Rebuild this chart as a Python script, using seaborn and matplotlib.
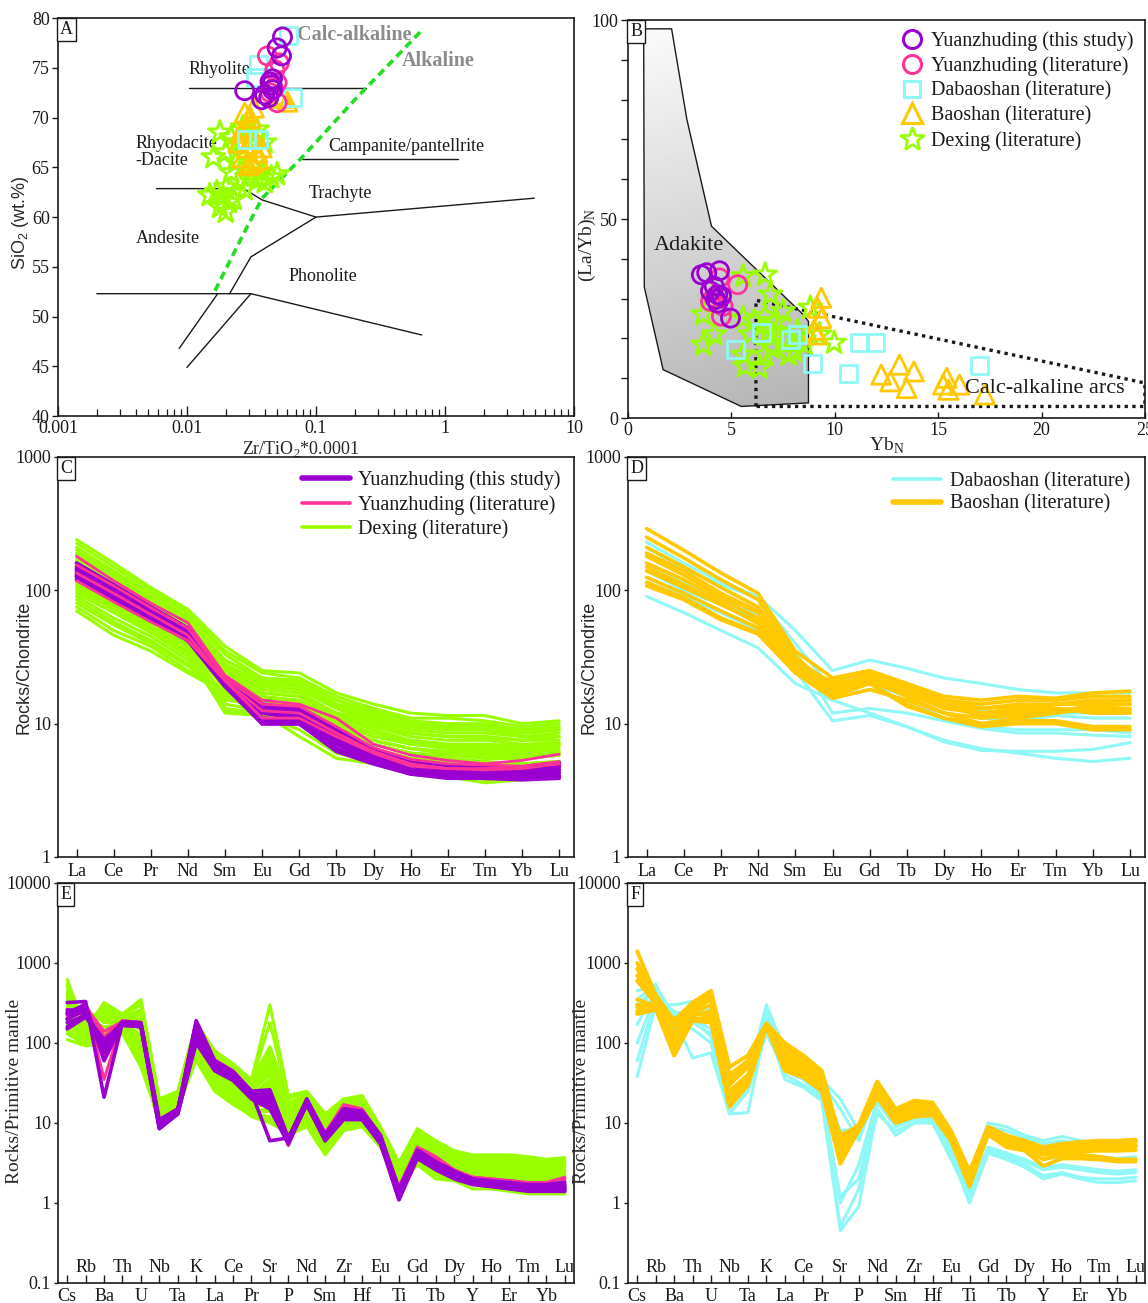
import numpy as np
import pandas as pd
import matplotlib
matplotlib.use("Agg")
import matplotlib.pyplot as plt
import seaborn as sns
from matplotlib.patches import Polygon
from matplotlib.lines import Line2D
from matplotlib.ticker import FixedLocator, NullLocator, NullFormatter, FuncFormatter, LogLocator

# ---------------------------------------------------------------- data
# A: Zr/TiO2*0.0001 vs SiO2
a_yzd_x = [0.055, 0.050, 0.054, 0.046, 0.045, 0.028, 0.040, 0.043, 0.038, 0.046, 0.044]
a_yzd_y = [78.1, 77.0, 76.2, 73.9, 73.3, 72.7, 72.3, 72.0, 71.8, 72.8, 73.6]
a_yzdl_x = [0.042, 0.048, 0.050, 0.047, 0.050, 0.044, 0.052]
a_yzdl_y = [76.2, 74.8, 73.5, 72.9, 71.5, 72.5, 75.5]
a_dbs_x = [0.061, 0.036, 0.034, 0.066, 0.029, 0.036]
a_dbs_y = [78.3, 75.3, 74.0, 72.0, 67.8, 67.8]
a_bs_x = [0.028, 0.031, 0.030, 0.026, 0.033, 0.029, 0.035, 0.027, 0.032, 0.030, 0.036,
          0.025, 0.038, 0.055, 0.060, 0.052, 0.033]
a_bs_y = [70.5, 70.0, 69.0, 68.5, 68.0, 67.0, 66.5, 66.0, 65.5, 65.2, 65.8,
          67.5, 67.0, 72.0, 71.6, 72.3, 71.0]
a_dx_x = [0.018, 0.022, 0.025, 0.030, 0.035, 0.040, 0.020, 0.016, 0.024, 0.028, 0.033,
          0.038, 0.045, 0.050, 0.040, 0.035, 0.030, 0.020, 0.017, 0.019, 0.015, 0.021,
          0.018, 0.020, 0.023, 0.025, 0.028, 0.022, 0.031, 0.027]
a_dx_y = [68.5, 68.0, 67.5, 68.5, 68.8, 67.5, 66.5, 66.0, 65.5, 66.0, 65.0,
          64.5, 64.0, 64.3, 63.5, 63.8, 64.0, 63.0, 62.5, 62.0, 62.2, 61.5,
          61.0, 60.5, 61.8, 63.5, 62.8, 64.5, 66.5, 69.0]

# A: classification boundaries (Winchester & Floyd)
wf_rhy_x, wf_rhy_y = [0.0103, 0.245], [73.0, 73.0]
wf_cp_x, wf_cp_y = [0.078, 1.26], [65.8, 65.8]
wf_tr_x = [0.0058, 0.0275, 0.0383, 0.1, 4.92]
wf_tr_y = [62.86, 62.86, 61.72, 60.0, 61.9]
wf_ph_x = [0.1, 0.0313, 0.0214]
wf_ph_y = [60.0, 56.0, 52.3]
wf_bas_x = [0.002, 0.0313, 0.66]
wf_bas_y = [52.3, 52.3, 48.15]
wf_l1_x, wf_l1_y = [0.0173, 0.0087], [52.3, 46.8]
wf_l2_x, wf_l2_y = [0.0313, 0.00998], [52.3, 44.88]
alk_x = [0.0165, 0.0275, 0.0383, 0.0793, 0.200, 0.683]
alk_y = [52.6, 58.35, 61.9, 66.1, 71.8, 78.96]

# B: YbN vs (La/Yb)N
b_yzd_x = [3.81, 3.55, 4.43, 4.17, 4.34, 4.25, 4.52, 4.34, 4.96, 3.99]
b_yzd_y = [36.5, 36.0, 37.0, 33.1, 31.0, 29.8, 30.6, 28.9, 25.1, 31.9]
b_yzdl_x = [5.31, 3.99, 4.60, 4.52, 4.43, 4.17]
b_yzdl_y = [33.5, 29.3, 28.1, 25.6, 35.2, 30.2]
b_dbs_x = [5.22, 6.45, 7.86, 8.21, 8.91, 10.67, 11.20, 11.99, 17.0]
b_dbs_y = [17.2, 21.5, 19.7, 21.0, 13.8, 11.3, 18.9, 18.9, 13.2]
b_bs_x = [9.35, 9.17, 9.35, 9.00, 9.17, 12.25, 13.13, 13.83, 12.69, 13.48, 15.24, 15.41,
          16.03, 15.50, 17.26]
b_bs_y = [30.2, 27.7, 25.1, 22.2, 21.0, 10.9, 13.4, 11.7, 9.2, 7.5, 8.4, 10.1,
          8.4, 7.1, 5.9]
b_dx_x = [3.64, 4.17, 3.64, 5.57, 6.63, 6.89, 5.66, 6.36, 6.63, 7.15, 7.50, 6.98, 5.92,
          8.03, 8.82, 9.97, 8.56, 5.57, 7.50, 6.10, 6.63, 7.77, 8.21, 6.80, 9.26, 5.57, 7.15]
b_dx_y = [18.4, 21.0, 26.0, 35.6, 36.0, 31.0, 13.0, 12.6, 25.6, 24.3, 20.1, 17.6, 21.0,
          16.8, 27.7, 18.9, 18.4, 25.1, 26.8, 24.3, 15.9, 15.9, 21.8, 21.8, 21.0, 15.9, 21.0]

# B: discrimination fields
adakite_x = [0.76, 2.11, 2.85, 4.04, 8.47, 8.73, 8.73, 5.48, 1.70, 0.79]
adakite_y = [97.8, 97.8, 75.0, 48.2, 26.0, 24.3, 3.8, 2.9, 12.15, 32.9]
arc_x = [6.19, 6.19, 25.0, 25.0, 6.19]
arc_y = [2.9, 29.6, 8.8, 2.9, 2.9]

# C, D: chondrite-normalised REE
ree = ["La", "Ce", "Pr", "Nd", "Sm", "Eu", "Gd", "Tb", "Dy", "Ho", "Er", "Tm", "Yb", "Lu"]
ree_yzd = [
    [160, 110, 75, 52, 22, 14, 13, 9, 6.5, 5.2, 4.8, 4.7, 4.7, 5.1],
    [150, 105, 72, 50, 21.5, 13.5, 12.5, 8.5, 6.3, 5.0, 4.7, 4.6, 4.6, 5.0],
    [145, 100, 70, 48, 21, 13, 12, 8.3, 6.0, 4.9, 4.6, 4.5, 4.5, 4.9],
    [140, 97, 68, 47, 20.5, 12.5, 11.5, 8.0, 5.8, 4.8, 4.5, 4.4, 4.4, 4.7],
    [135, 95, 66, 46, 20, 12, 11, 7.7, 5.6, 4.7, 4.4, 4.3, 4.3, 4.5],
    [130, 92, 64, 45, 20, 11, 10.5, 7.3, 5.4, 4.6, 4.3, 4.2, 4.2, 4.3],
    [125, 88, 62, 43, 19.5, 10.5, 10, 7.0, 5.3, 4.4, 4.1, 4.0, 4.0, 4.1],
    [120, 85, 60, 42, 19, 10, 10, 6.5, 5.1, 4.2, 4.0, 3.9, 3.9, 4.0],
    [128, 90, 63, 44, 20, 10, 10, 6.2, 5.0, 4.2, 3.9, 3.9, 3.8, 3.9],
]
ree_yzdl = [
    [180, 118, 80, 57, 23, 15, 14, 11, 7, 5.8, 5.3, 5.0, 5.3, 5.9],
    [155, 108, 74, 52, 22, 14, 13.5, 9.5, 6.6, 5.4, 5.0, 4.9, 4.8, 5.2],
    [118, 82, 58, 42, 21, 11, 11, 8, 6, 4.8, 4.6, 4.5, 4.6, 5.0],
    [135, 95, 66, 46, 21, 12.5, 12, 8.5, 6.2, 5.0, 4.6, 4.6, 4.7, 5.0],
]
ree_dx = [
    [240, 160, 105, 72, 38, 25, 24, 17, 14, 12, 11.5, 11.5, 10, 10.5],
    [225, 150, 100, 68, 35, 24, 22, 16, 13, 11, 11, 10.5, 9.5, 10],
    [210, 140, 95, 65, 33, 22, 21, 15, 12.5, 10.5, 10, 10, 9, 9.5],
    [200, 135, 92, 62, 30, 21, 20, 14, 12, 10, 9.5, 9.5, 8.5, 9],
    [190, 130, 90, 60, 28, 20, 19, 13.5, 11, 9.5, 9, 9, 8, 8.5],
    [180, 125, 85, 57, 27, 19, 18, 13, 10.5, 9, 8.5, 8.5, 8, 8],
    [170, 118, 82, 55, 26, 18, 17, 12, 10, 8.5, 8, 8, 7.5, 7.5],
    [160, 112, 78, 52, 25, 17, 16, 11.5, 9.5, 8, 7.5, 7.5, 7, 7.2],
    [150, 105, 74, 50, 24, 16, 15, 11, 9, 7.5, 7, 7, 6.5, 7],
    [145, 100, 70, 48, 23, 15.5, 14.5, 10.5, 8.5, 7.2, 6.8, 6.8, 6.5, 6.8],
    [140, 95, 68, 46, 22, 15, 14, 10, 8, 7, 6.5, 6.5, 6.2, 6.5],
    [130, 90, 64, 44, 21, 14, 13, 9.5, 7.5, 6.5, 6, 6, 5.8, 6],
    [125, 88, 62, 42, 20, 14, 13, 9, 7.5, 6.5, 6.2, 6.2, 6, 6.2],
    [120, 85, 60, 40, 18, 13, 12, 8.5, 7, 6, 5.8, 5.8, 5.5, 5.8],
    [115, 80, 57, 38, 16, 12, 11, 8, 6.5, 5.5, 5.2, 5, 5, 5.2],
    [110, 78, 55, 37, 14, 12.5, 10.5, 7.5, 6, 5, 4.8, 4.5, 4.5, 4.8],
    [105, 75, 52, 35, 13, 12, 10, 7, 5.8, 5, 4.5, 4.2, 4.2, 4.5],
    [100, 72, 50, 34, 12, 11.5, 9, 6, 5.2, 4.5, 4.2, 3.8, 4, 4.2],
    [95, 68, 48, 32, 12.5, 12, 8, 5.5, 5, 4.3, 4, 3.6, 3.8, 4],
    [90, 62, 45, 30, 15, 14, 11, 8, 7, 6, 5.8, 5.5, 5.5, 5.8],
    [85, 58, 42, 28, 16, 15, 13, 10, 8.5, 7.5, 7, 7, 6.8, 7],
    [80, 55, 40, 27, 17, 16, 14, 11, 9.5, 8.5, 8, 8, 7.5, 8],
    [75, 50, 38, 25, 18, 17, 16, 12, 10.5, 9.5, 9, 9, 8.5, 9],
    [70, 46, 35, 24, 17, 15, 13, 9, 7.5, 6.5, 6, 5.5, 5.5, 6],
    [165, 115, 80, 54, 30, 22, 21, 15, 12, 10, 9.5, 9.5, 9, 9.5],
    [135, 92, 66, 45, 26, 20, 20, 14, 11.5, 9.5, 9, 9, 8.5, 9],
    [115, 82, 58, 40, 24, 19, 18, 13, 10, 8.5, 8, 7.8, 7.5, 8],
    [185, 128, 88, 58, 22, 14, 12, 8.5, 7, 6, 5.5, 5.2, 5, 5.2],
    [155, 108, 75, 50, 20, 13, 11, 7.5, 6.2, 5.2, 4.8, 4.6, 4.5, 4.7],
]
ree_dbs = [
    [230, 160, 115, 90, 50, 25, 30, 26, 22, 20, 18, 17, 17, 17],
    [90, 68, 50, 37, 20, 15, 12, 9.5, 7.5, 6.5, 6, 5.5, 5.2, 5.5],
    [125, 95, 70, 52, 25, 10.5, 11.5, 9.5, 7.3, 6.3, 6.2, 6.2, 6.4, 7.2],
    [160, 115, 85, 65, 35, 12, 13, 12, 10.5, 9.2, 8.5, 8.5, 8.2, 8.0],
    [210, 145, 110, 88, 40, 18, 20, 16, 12, 11, 10.5, 11.5, 11, 11],
    [140, 100, 78, 60, 30, 16, 18, 15, 11, 9.5, 9, 9, 9, 8.5],
    [115, 90, 68, 50, 28, 20, 22, 18, 14, 12.5, 12, 12, 12, 12],
]
ree_bs = [
    [290, 200, 135, 95, 35, 22, 25, 20, 16, 15, 16, 15.5, 17, 17.5],
    [250, 175, 120, 85, 32, 18, 24, 19, 15, 14, 15, 15, 16, 16],
    [210, 150, 105, 75, 30, 20, 22, 17, 14, 12, 13, 14, 14, 14],
    [180, 130, 90, 68, 28, 17, 21, 16, 12, 10, 10.5, 10.5, 9.5, 9.5],
    [160, 120, 85, 62, 26, 16, 20, 14, 11, 9.5, 10, 10, 9, 9],
    [140, 105, 78, 58, 27, 19, 23, 18, 13.5, 11.5, 12, 13, 12.5, 12.5],
    [125, 95, 70, 52, 26, 21, 24, 19, 15, 13, 14, 14, 15, 15],
    [115, 88, 62, 48, 25, 17, 20, 13.5, 11, 10, 11, 12, 13, 13],
    [108, 85, 60, 47, 24, 15.5, 18, 15, 12, 11, 11.5, 12.5, 13.5, 14],
    [190, 140, 95, 70, 30, 19, 21, 18, 14, 13, 13.5, 13, 12, 12],
    [150, 110, 80, 56, 27, 18, 22, 17, 13, 12, 12.5, 14, 14.5, 15],
]

# E, F: primitive-mantle normalised trace elements
tr = ["Cs", "Rb", "Ba", "Th", "U", "Nb", "Ta", "K", "La", "Ce", "Pr", "Sr", "P", "Nd",
      "Sm", "Zr", "Hf", "Eu", "Ti", "Gd", "Tb", "Dy", "Y", "Ho", "Er", "Tm", "Yb", "Lu"]
tr_yzd = [
    [320, 330, 21, 180, 175, 9, 14, 170, 58, 42, 24, 6, 6.5, 19, 7, 15, 14, 7, 1.2, 4.5, 3.2, 2.4, 2.0, 1.8, 1.7, 1.6, 1.6, 1.6],
    [240, 300, 60, 175, 170, 10, 14, 180, 55, 40, 23, 22, 6, 19, 7, 14, 13, 6.5, 1.3, 4.3, 3.0, 2.3, 1.9, 1.8, 1.7, 1.6, 1.6, 1.6],
    [200, 260, 85, 170, 165, 9, 13, 150, 52, 38, 22, 24, 5.5, 18, 6.5, 13, 12, 6, 1.1, 4.0, 2.9, 2.2, 1.8, 1.7, 1.6, 1.5, 1.5, 1.5],
    [230, 240, 100, 185, 180, 11, 15, 130, 50, 37, 21, 20, 6, 18, 6.5, 12, 12, 6, 1.2, 4.2, 3.0, 2.2, 1.9, 1.8, 1.7, 1.6, 1.5, 1.5],
    [180, 220, 110, 170, 160, 8.5, 13, 110, 48, 36, 21, 18, 5.8, 17, 6, 12, 11.5, 5.5, 1.3, 3.8, 2.7, 2.1, 1.8, 1.7, 1.6, 1.5, 1.5, 1.4],
    [160, 230, 95, 175, 170, 9.5, 14, 160, 55, 41, 23, 16, 6.2, 19, 6.8, 14, 13, 6.5, 1.4, 4.4, 3.1, 2.3, 1.9, 1.8, 1.7, 1.6, 1.6, 1.7],
    [200, 280, 75, 180, 175, 10, 14.5, 190, 60, 44, 25, 26, 6.5, 20, 7.2, 15, 14, 7, 1.5, 4.6, 3.3, 2.5, 2.0, 1.9, 1.8, 1.7, 1.7, 1.8],
    [150, 210, 105, 165, 160, 8.5, 13, 100, 45, 34, 20, 15, 5.5, 17, 6, 11, 11, 5.5, 1.1, 3.6, 2.6, 2.0, 1.7, 1.6, 1.5, 1.4, 1.4, 1.4],
    [260, 250, 90, 178, 170, 9, 14, 140, 50, 38, 22, 21, 6, 18, 6.5, 13, 12.5, 6, 1.2, 4.1, 2.9, 2.2, 1.8, 1.7, 1.6, 1.5, 1.5, 1.5],
]
tr_yzdl = [
    [220, 320, 35, 190, 180, 10, 15, 190, 62, 45, 25, 20, 5.2, 20, 7.5, 17, 15, 7, 1.6, 5, 3.8, 2.6, 2.1, 2.0, 1.9, 1.8, 1.8, 2.1],
    [240, 280, 140, 185, 175, 10.5, 15, 170, 58, 42, 24, 18, 5.5, 19, 7, 16, 14, 6.5, 1.5, 4.8, 3.6, 2.5, 2.0, 1.9, 1.8, 1.7, 1.7, 1.9],
    [200, 250, 70, 180, 170, 9.5, 14, 150, 55, 40, 23, 22, 6, 19, 7, 15, 13, 6.5, 1.4, 4.6, 3.4, 2.4, 2.0, 1.9, 1.8, 1.7, 1.7, 1.8],
    [230, 300, 120, 190, 180, 11, 15, 180, 60, 44, 25, 20, 5.5, 20, 7.5, 16, 14.5, 7, 1.5, 4.9, 3.7, 2.5, 2.1, 2.0, 1.9, 1.8, 1.8, 2.0],
]
tr_dx = [
    [620, 150, 320, 230, 350, 20, 25, 180, 80, 55, 35, 300, 22, 25, 13, 20, 22, 9, 3.2, 8.5, 6, 4.5, 4, 4, 4, 3.8, 3.5, 3.7],
    [500, 180, 280, 220, 300, 18, 23, 170, 75, 52, 33, 180, 20, 24, 12, 19, 21, 8.5, 3.0, 8, 5.5, 4.2, 3.8, 3.8, 3.8, 3.6, 3.4, 3.6],
    [450, 200, 250, 210, 260, 17, 22, 160, 70, 48, 30, 80, 18, 22, 11, 18, 20, 8, 2.8, 7.5, 5.2, 4, 3.6, 3.6, 3.5, 3.4, 3.2, 3.4],
    [400, 220, 230, 200, 220, 16, 21, 150, 65, 45, 28, 60, 16, 20, 10, 17, 19, 7.5, 2.6, 7, 5, 3.8, 3.4, 3.4, 3.3, 3.2, 3, 3.2],
    [350, 240, 200, 190, 180, 15, 20, 140, 60, 42, 26, 50, 15, 19, 9.5, 16, 18, 7, 2.5, 6.5, 4.7, 3.6, 3.2, 3.2, 3.1, 3, 2.8, 3],
    [300, 250, 180, 180, 150, 14, 19, 130, 55, 40, 25, 40, 14, 18, 9, 15, 17, 7, 2.4, 6, 4.4, 3.4, 3, 3, 2.9, 2.8, 2.6, 2.8],
    [280, 200, 160, 170, 130, 13, 18, 120, 50, 36, 22, 35, 13, 17, 8.5, 14, 16, 6.5, 2.3, 5.5, 4, 3.2, 2.8, 2.8, 2.7, 2.6, 2.5, 2.6],
    [250, 180, 150, 165, 110, 12, 17, 110, 45, 33, 20, 30, 12, 16, 8, 13, 15, 6.5, 2.2, 5, 3.7, 3, 2.6, 2.6, 2.5, 2.4, 2.3, 2.5],
    [220, 160, 140, 160, 90, 11, 16, 100, 40, 30, 18, 25, 11, 15, 7.5, 12, 14, 6, 2.1, 4.5, 3.4, 2.8, 2.4, 2.4, 2.3, 2.2, 2.1, 2.3],
    [200, 140, 130, 150, 70, 10, 15, 90, 35, 26, 16, 20, 10, 14, 7, 11, 13, 6, 2, 4.2, 3.1, 2.6, 2.2, 2.2, 2.1, 2, 2, 2.1],
    [180, 120, 120, 140, 60, 10.5, 14, 80, 30, 22, 14, 15, 9, 12, 6, 10, 11, 5.5, 1.9, 4, 2.8, 2.4, 2, 2, 1.9, 1.8, 1.8, 1.9],
    [150, 100, 110, 135, 50, 11, 14.5, 70, 28, 20, 13, 12, 8, 11, 5, 9, 10, 5.2, 1.8, 3.6, 2.5, 2.2, 1.8, 1.8, 1.7, 1.6, 1.6, 1.7],
    [130, 95, 105, 130, 55, 12, 15, 65, 26, 18, 12, 10, 7.5, 10, 4.5, 8.5, 9.5, 5, 1.7, 3.3, 2.2, 2, 1.7, 1.6, 1.6, 1.5, 1.5, 1.6],
    [110, 92, 100, 140, 65, 13, 16, 60, 25, 17, 12.5, 11, 7, 9, 4, 8, 9, 5, 1.6, 3, 2, 1.9, 1.5, 1.5, 1.4, 1.3, 1.3, 1.3],
    [550, 130, 300, 215, 330, 19, 24, 175, 78, 54, 34, 90, 21, 23, 12.5, 19.5, 21.5, 8.8, 3.1, 8.2, 5.8, 4.3, 3.9, 3.9, 3.9, 3.7, 3.5, 3.6],
    [420, 170, 260, 205, 240, 16.5, 21.5, 155, 68, 47, 29, 70, 17, 21, 10.5, 17.5, 19.5, 7.8, 2.7, 7.2, 5.1, 3.9, 3.5, 3.5, 3.4, 3.3, 3.1, 3.3],
    [330, 210, 190, 185, 160, 14.5, 19.5, 135, 58, 41, 25.5, 45, 14.5, 18.5, 9.2, 15.5, 17.5, 7, 2.4, 6.2, 4.5, 3.5, 3.1, 3.1, 3, 2.9, 2.7, 2.9],
    [260, 190, 155, 168, 120, 12.5, 17.5, 115, 48, 35, 21, 32, 12.5, 16.5, 8.2, 13.5, 15.5, 6.5, 2.2, 5.2, 3.8, 3.1, 2.7, 2.7, 2.6, 2.5, 2.4, 2.5],
    [210, 150, 135, 155, 80, 10.5, 15.5, 95, 38, 28, 17, 22, 10.5, 14.5, 7.2, 11.5, 13.5, 6, 2, 4.3, 3.2, 2.7, 2.3, 2.3, 2.2, 2.1, 2, 2.2],
    [170, 110, 115, 138, 55, 10, 14, 75, 29, 21, 13.5, 14, 8.5, 11.5, 5.5, 9.5, 10.5, 5.3, 1.8, 3.8, 2.6, 2.3, 1.9, 1.9, 1.8, 1.7, 1.7, 1.8],
    [380, 230, 210, 195, 200, 15.5, 20.5, 145, 62, 43, 27, 55, 15.5, 19.5, 9.8, 16.5, 18.5, 7.2, 2.5, 6.8, 4.8, 3.7, 3.3, 3.3, 3.2, 3.1, 2.9, 3.1],
    [240, 170, 145, 162, 100, 11.5, 16.5, 105, 42, 31, 19, 28, 11.5, 15.5, 7.8, 12.5, 14.5, 6.2, 2.1, 4.8, 3.5, 2.9, 2.5, 2.5, 2.4, 2.3, 2.2, 2.4],
    [190, 130, 125, 145, 65, 10, 14.5, 85, 32, 24, 15, 18, 9.5, 13, 6.5, 10.5, 12, 5.7, 1.9, 4.1, 2.9, 2.5, 2.1, 2.1, 2, 1.9, 1.9, 2],
    [140, 100, 108, 132, 52, 11.5, 14.8, 68, 27, 19, 12.5, 11, 7.8, 10.5, 4.8, 8.8, 9.8, 5.1, 1.7, 3.5, 2.4, 2.1, 1.8, 1.7, 1.7, 1.6, 1.6, 1.6],
]
tr_bs = [
    [1400, 400, 190, 320, 450, 50, 70, 175, 100, 70, 45, 6.5, 9.5, 33, 15, 19, 18, 8, 2.5, 9, 7, 6, 5, 5.5, 5.8, 6, 6, 6.2],
    [1000, 380, 160, 300, 420, 40, 60, 170, 90, 65, 42, 6, 9, 30, 14, 18, 17, 7.5, 2.3, 8.7, 6.8, 5.8, 4.8, 5.3, 5.6, 5.8, 5.8, 6],
    [850, 350, 130, 280, 400, 30, 50, 168, 80, 60, 38, 5.5, 8.8, 28, 13, 17, 16, 7.2, 2.1, 8.4, 6.5, 5.6, 4.6, 5, 5.3, 5.5, 5.5, 5.7],
    [700, 330, 100, 260, 350, 25, 40, 165, 70, 55, 35, 5, 8.5, 26, 12, 16, 15, 7, 2, 8.2, 6.3, 5.4, 4.4, 4.8, 5, 5.2, 5.2, 5.3],
    [600, 310, 85, 240, 300, 20, 35, 165, 60, 50, 32, 4.5, 8.2, 25, 11.5, 15, 14, 6.8, 1.9, 8, 6, 5.2, 4.2, 4.5, 4.8, 4.9, 4.9, 5],
    [350, 290, 75, 220, 250, 18, 32, 170, 55, 45, 30, 4, 8, 24, 11, 14, 13.5, 6.5, 1.8, 7.8, 5.7, 5, 4, 4.2, 4.4, 4.5, 4.5, 4.6],
    [300, 280, 70, 200, 200, 17, 30, 165, 50, 40, 28, 3.5, 8, 22, 10.5, 13, 13, 6.3, 1.7, 7.5, 5.3, 4.7, 3.5, 4, 4, 3.8, 3.5, 3.5],
    [280, 270, 70, 190, 180, 16, 30, 160, 45, 37, 25, 3.1, 8.2, 21, 10, 12, 12.5, 6, 1.6, 7.2, 5, 4.5, 2.9, 3.6, 3.6, 3.5, 3.3, 3.3],
    [230, 260, 200, 230, 220, 22, 38, 172, 65, 52, 34, 7, 9, 27, 12.5, 15.5, 15, 7.2, 2.1, 8.5, 6.2, 5.3, 4.5, 4.8, 5, 5, 5.2, 5.3],
    [250, 300, 120, 250, 380, 35, 55, 168, 75, 58, 36, 6, 8.8, 29, 13.5, 17, 16, 7.6, 2.2, 8.8, 6.6, 5.7, 4.7, 5.1, 5.3, 5.6, 5.6, 5.8],
]
tr_dbs = [
    [38, 300, 300, 330, 250, 25, 40, 300, 80, 55, 35, 20, 8, 30, 15, 16, 15, 8, 2, 10, 9, 7, 6, 6.8, 6, 5.5, 5, 5.5],
    [60, 350, 250, 200, 150, 15, 30, 200, 70, 50, 32, 15, 6, 25, 12, 14, 14, 7, 1.8, 9, 8, 6.5, 5.5, 6, 5.5, 5, 4.8, 5],
    [100, 400, 200, 65, 75, 13, 13.5, 180, 35, 28, 19, 0.45, 0.9, 15, 7, 10, 11, 4, 1.0, 4.2, 3.5, 2.8, 2, 2.3, 2, 1.8, 1.8, 1.9],
    [170, 450, 180, 150, 100, 13, 25, 150, 40, 30, 21, 0.5, 1.5, 13, 8, 10, 10, 3.5, 1.2, 4.5, 3.8, 3, 2.2, 2.4, 2.1, 2, 2, 2.1],
    [250, 500, 150, 200, 120, 18, 28, 160, 50, 38, 25, 1.0, 3, 20, 10, 12, 12, 5, 1.4, 5, 4.2, 3.5, 2.8, 3, 2.8, 2.6, 2.5, 2.6],
    [350, 550, 130, 250, 200, 20, 35, 250, 60, 45, 28, 5, 7, 25, 11, 13, 13, 6, 1.6, 7, 5.5, 4.5, 3.5, 3.8, 3.6, 3.5, 3.4, 3.5],
    [450, 520, 220, 280, 230, 22, 38, 220, 65, 48, 30, 8, 8.5, 28, 13, 14, 14, 7, 1.8, 8, 6.5, 5, 4, 4.3, 4, 3.8, 3.6, 3.8],
    [300, 480, 170, 180, 130, 16, 26, 130, 45, 35, 22, 1.2, 2, 18, 9, 11, 11, 4.5, 1.3, 4.8, 4, 3.3, 2.6, 2.8, 2.6, 2.4, 2.3, 2.4],
]

lab_yzd = "Yuanzhuding (this study)"
lab_yzdl = "Yuanzhuding (literature)"
lab_dbs = "Dabaoshan (literature)"
lab_bs = "Baoshan (literature)"
lab_dx = "Dexing (literature)"

# ---------------------------------------------------------------- style
PURPLE = "#9a00d0"
PINK = "#ff3399"
GREEN = "#99ff00"
CYAN = "#8ff7f5"
ORANGE = "#ffc800"
DASH_GREEN = "#22dd22"
GREY_TXT = "#8c8c8c"
INK = "#1a1a1a"

sns.set_theme(style="ticks")
plt.rcParams.update({
    "font.family": ["Liberation Serif", "DejaVu Serif"],
    "mathtext.fontset": "custom",
    "mathtext.rm": "Liberation Serif",
    "axes.linewidth": 1.2,
    "axes.edgecolor": INK,
    "xtick.color": INK,
    "ytick.color": INK,
    "xtick.labelsize": 13,
    "ytick.labelsize": 13,
    "xtick.major.width": 1.0,
    "ytick.major.width": 1.0,
    "xtick.minor.width": 0.9,
    "text.color": INK,
})
SANS = ["Liberation Sans", "DejaVu Sans"]
LEG_FS = 14.5

fig = plt.figure(figsize=(11.48, 13.03), dpi=100)
axA = fig.add_axes([0.0505, 0.6807, 0.4495, 0.3054])
axB = fig.add_axes([0.5470, 0.6792, 0.4503, 0.3054])
axC = fig.add_axes([0.0505, 0.3423, 0.4495, 0.3070])
axD = fig.add_axes([0.5470, 0.3423, 0.4503, 0.3070])
axE = fig.add_axes([0.0505, 0.01535, 0.4495, 0.3070])
axF = fig.add_axes([0.5470, 0.01535, 0.4503, 0.3070])


def panel_tag(ax, letter):
    ax.text(0.004, 0.993, letter, transform=ax.transAxes, ha="left", va="top", fontsize=13,
            bbox=dict(boxstyle="square,pad=0.18", fc="white", ec=INK, lw=1.0), zorder=10)


def scatter(ax, xs, ys, marker, color, size, z):
    sns.scatterplot(x=xs, y=ys, marker=marker, s=size, color=color, facecolor="none",
                    edgecolor=color, linewidth=2.0, ax=ax, zorder=z, legend=False)


def spider(ax, rows, labels, color, lw, z):
    df = pd.DataFrame(rows, columns=labels)
    df["sample"] = np.arange(len(df))
    long = df.melt(id_vars="sample", var_name="element", value_name="value")
    long["pos"] = long["element"].map({e: i for i, e in enumerate(labels)})
    sns.lineplot(data=long, x="pos", y="value", units="sample", estimator=None, color=color,
                 lw=lw, ax=ax, zorder=z, legend=False, solid_joinstyle="round")


# ---------------------------------------------------------------- A
ax = axA
ax.set_xscale("log")
for xs, ys in [(wf_rhy_x, wf_rhy_y), (wf_cp_x, wf_cp_y), (wf_tr_x, wf_tr_y), (wf_ph_x, wf_ph_y),
               (wf_bas_x, wf_bas_y), (wf_l1_x, wf_l1_y), (wf_l2_x, wf_l2_y)]:
    ax.plot(xs, ys, color=INK, lw=1.0, zorder=2)
ax.plot(alk_x, alk_y, color=DASH_GREEN, lw=2.6, ls=(0, (2.2, 1.4)), zorder=3)
scatter(ax, a_dx_x, a_dx_y, "*", GREEN, 300, 4)
scatter(ax, a_bs_x, a_bs_y, "^", ORANGE, 190, 5)
scatter(ax, a_dbs_x, a_dbs_y, "s", CYAN, 150, 6)
scatter(ax, a_yzdl_x, a_yzdl_y, "o", PINK, 170, 7)
scatter(ax, a_yzd_x, a_yzd_y, "o", PURPLE, 170, 8)
ax.text(0.0718, 78.3, "Calc-alkaline", fontsize=14.5, fontweight="bold", color=GREY_TXT, va="center")
ax.text(0.459, 75.7, "Alkaline", fontsize=14.5, fontweight="bold", color=GREY_TXT, va="center")
ax.text(0.0179, 74.85, "Rhyolite", fontsize=13, ha="center", va="center")
ax.text(0.004, 66.5, "Rhyodacite\n-Dacite", fontsize=13, ha="left", va="center", linespacing=1.0)
ax.text(0.124, 67.1, "Campanite/pantellrite", fontsize=13, ha="left", va="center")
ax.text(0.0875, 62.4, "Trachyte", fontsize=13, ha="left", va="center")
ax.text(0.004, 57.85, "Andesite", fontsize=13, ha="left", va="center")
ax.text(0.0608, 54.0, "Phonolite", fontsize=13, ha="left", va="center")
ax.set_xlim(0.001, 10)
ax.set_ylim(40, 80)
ax.xaxis.set_major_locator(FixedLocator([0.001, 0.01, 0.1, 1, 10]))
ax.xaxis.set_major_formatter(FuncFormatter(lambda v, p: f"{v:g}"))
ax.xaxis.set_minor_locator(LogLocator(base=10, subs=np.arange(2, 10)))
ax.xaxis.set_minor_formatter(NullFormatter())
ax.tick_params(axis="x", which="major", direction="in", length=7, pad=3)
ax.tick_params(axis="x", which="minor", direction="in", length=5)
ax.set_yticks(np.arange(40, 81, 5))
ax.tick_params(axis="y", direction="out", length=4, pad=2)
ax.set_xlabel("Zr/TiO$_{\\mathregular{2}}$*0.0001", fontsize=13)
ax.xaxis.set_label_coords(0.47, -0.058)
ax.set_ylabel("SiO$_{\\mathregular{2}}$ (wt.%)", fontsize=13, family=SANS)
ax.yaxis.set_label_coords(-0.052, 0.485)
panel_tag(ax, "A")

# ---------------------------------------------------------------- B
ax = axB
ada = Polygon(np.column_stack([adakite_x, adakite_y]), closed=True, fc="none", ec=INK, lw=1.0,
              zorder=2)
ax.add_patch(ada)
gy = np.linspace(0, 1, 200)[:, None]
gx = np.linspace(0, 1, 60)[None, :]
shade = 0.70 + 0.26 * gy + 0.03 * (1 - gx)
im = ax.imshow(shade, extent=[0, 9, 0, 100], origin="lower", cmap="gray", vmin=0, vmax=1,
               aspect="auto", zorder=1)
im.set_clip_path(ada)
ax.plot(arc_x, arc_y, color=INK, lw=2.4, ls=(0, (1, 1.3)), zorder=3)
scatter(ax, b_dx_x, b_dx_y, "*", GREEN, 300, 4)
scatter(ax, b_bs_x, b_bs_y, "^", ORANGE, 190, 5)
scatter(ax, b_dbs_x, b_dbs_y, "s", CYAN, 150, 6)
scatter(ax, b_yzdl_x, b_yzdl_y, "o", PINK, 170, 7)
scatter(ax, b_yzd_x, b_yzd_y, "o", PURPLE, 170, 8)
ax.text(1.27, 43.4, "Adakite", fontsize=16, ha="left", va="center", zorder=9)
ax.text(16.3, 7.5, "Calc-alkaline arcs", fontsize=16, ha="left", va="center", zorder=9)
ax.set_xlim(0, 25)
ax.set_ylim(0, 100)
ax.set_xticks([0, 5, 10, 15, 20, 25])
ax.yaxis.set_major_locator(FixedLocator(np.arange(0, 101, 10)))
ax.yaxis.set_major_formatter(FuncFormatter(lambda v, p: f"{v:g}" if v % 50 == 0 else ""))
ax.tick_params(axis="x", direction="in", length=4, pad=3)
ax.tick_params(axis="y", direction="out", length=5, pad=2)
ax.set_xlabel("Yb$_{\\mathregular{N}}$", fontsize=14)
ax.xaxis.set_label_coords(0.5, -0.045)
ax.set_ylabel("(La/Yb)$_{\\mathregular{N}}$", fontsize=14)
ax.yaxis.set_label_coords(-0.058, 0.435)
handles = [
    Line2D([], [], ls="none", marker="o", ms=13, mfc="none", mec=PURPLE, mew=2.2, label=lab_yzd),
    Line2D([], [], ls="none", marker="o", ms=13, mfc="none", mec=PINK, mew=2.2, label=lab_yzdl),
    Line2D([], [], ls="none", marker="s", ms=12, mfc="none", mec=CYAN, mew=2.2, label=lab_dbs),
    Line2D([], [], ls="none", marker="^", ms=14, mfc="none", mec=ORANGE, mew=2.2, label=lab_bs),
    Line2D([], [], ls="none", marker="*", ms=18, mfc="none", mec=GREEN, mew=2.0, label=lab_dx),
]
ax.legend(handles=handles, loc="upper right", bbox_to_anchor=(1.0, 1.0), frameon=False,
          fontsize=LEG_FS, handlelength=1.3, handletextpad=0.3, labelspacing=0.27,
          borderaxespad=0.15)
panel_tag(ax, "B")


# ---------------------------------------------------------------- C, D
def ree_axes(ax, label_x):
    ax.set_yscale("log")
    ax.set_ylim(1, 1000)
    ax.set_xlim(-0.5, 13.4)
    ax.yaxis.set_major_locator(FixedLocator([1, 10, 100, 1000]))
    ax.yaxis.set_major_formatter(FuncFormatter(lambda v, p: f"{v:g}"))
    ax.yaxis.set_minor_locator(NullLocator())
    ax.set_xticks(np.arange(len(ree)))
    ax.set_xticklabels(ree)
    ax.tick_params(axis="x", direction="in", length=6, pad=4)
    ax.tick_params(axis="y", direction="out", length=3, pad=2)
    ax.set_xlabel("")
    ax.set_ylabel("Rocks/Chondrite", fontsize=13, family=SANS)
    ax.yaxis.set_label_coords(label_x, 0.475)


ax = axC
spider(ax, ree_dx, ree, GREEN, 2.2, 2)
spider(ax, ree_yzd, ree, PURPLE, 2.8, 3)
spider(ax, ree_yzdl, ree, PINK, 2.0, 4)
ree_axes(ax, -0.05)
handles = [Line2D([], [], color=PURPLE, lw=4.0, label=lab_yzd),
           Line2D([], [], color=PINK, lw=2.6, label=lab_yzdl),
           Line2D([], [], color=GREEN, lw=2.6, label=lab_dx)]
ax.legend(handles=handles, loc="upper right", bbox_to_anchor=(1.0, 1.0), frameon=False,
          fontsize=LEG_FS, handlelength=2.4, handletextpad=0.4, labelspacing=0.25,
          borderaxespad=0.25)
panel_tag(ax, "C")

ax = axD
spider(ax, ree_dbs, ree, CYAN, 2.2, 2)
spider(ax, ree_bs, ree, ORANGE, 2.6, 3)
ree_axes(ax, -0.058)
handles = [Line2D([], [], color=CYAN, lw=2.6, label=lab_dbs),
           Line2D([], [], color=ORANGE, lw=4.0, label=lab_bs)]
ax.legend(handles=handles, loc="upper right", bbox_to_anchor=(1.0, 1.0), frameon=False,
          fontsize=LEG_FS, handlelength=2.4, handletextpad=0.4, labelspacing=0.15,
          borderaxespad=0.35)
panel_tag(ax, "D")


# ---------------------------------------------------------------- E, F
def trace_axes(ax, label_x):
    ax.set_yscale("log")
    ax.set_ylim(0.1, 10000)
    ax.set_xlim(-0.5, 27.5)
    ax.yaxis.set_major_locator(FixedLocator([0.1, 1, 10, 100, 1000, 10000]))
    ax.yaxis.set_major_formatter(FuncFormatter(lambda v, p: f"{v:g}"))
    ax.yaxis.set_minor_locator(NullLocator())
    ax.set_xticks(np.arange(len(tr)))
    ax.set_xticklabels([])
    ax.tick_params(axis="x", direction="in", length=6)
    ax.tick_params(axis="y", direction="out", length=3, pad=2)
    tf = ax.get_xaxis_transform()
    for i, el in enumerate(tr):
        if i % 2 == 0:
            ax.text(i, -0.012, el, transform=tf, ha="center", va="top", fontsize=13)
        else:
            ax.text(i, 0.017, el, transform=tf, ha="center", va="bottom", fontsize=13)
    ax.set_xlabel("")
    ax.set_ylabel("Rocks/Primitive mantle", fontsize=14)
    ax.yaxis.set_label_coords(label_x, 0.48)


ax = axE
spider(ax, tr_dx, tr, GREEN, 2.2, 2)
spider(ax, tr_yzdl, tr, PINK, 2.2, 3)
spider(ax, tr_yzd, tr, PURPLE, 2.6, 4)
trace_axes(ax, -0.068)
panel_tag(ax, "E")

ax = axF
spider(ax, tr_dbs, tr, CYAN, 2.2, 2)
spider(ax, tr_bs, tr, ORANGE, 2.8, 3)
trace_axes(ax, -0.074)
panel_tag(ax, "F")

fig.savefig("out.png", dpi=100, facecolor="white")
